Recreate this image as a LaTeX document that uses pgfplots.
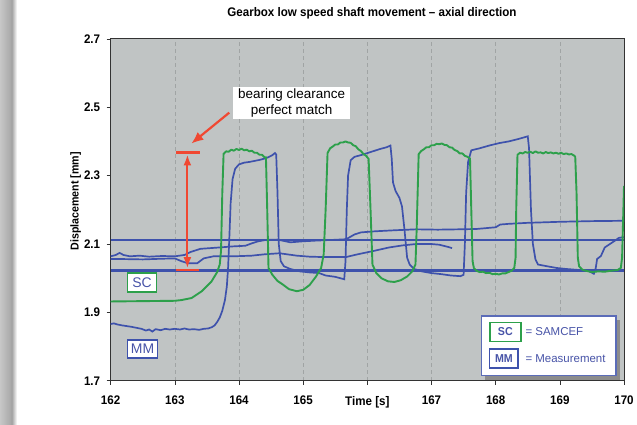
\documentclass[border=0pt]{standalone}
\usepackage{fontspec}
\setmainfont{Liberation Sans}
\newfontfamily\cond[FakeStretch=0.93,Ligatures=TeX]{Liberation Sans}
\newcommand\condbf{\cond\bfseries}
\usepackage{pgfplots}
\pgfplotsset{compat=1.18}
\usetikzlibrary{arrows.meta}

\definecolor{plotbg}{RGB}{192,196,196}
\definecolor{gridgray}{RGB}{160,164,164}
\definecolor{scgreen}{RGB}{45,160,75}
\definecolor{mmblue}{RGB}{62,82,172}
\definecolor{txtblue}{RGB}{72,84,168}
\definecolor{annred}{RGB}{240,72,50}

% pixel frame of the 637x426 reference, axis box is (111,39)-(626,382)
\tikzset{pix/.style={x=1pt,y=-1pt,shift={(-111pt,382pt)}}}

\begin{document}
\begin{tikzpicture}
\begin{scope}[pix]
  \path[use as bounding box] (0,0) rectangle (637,426);
  \shade[left color=black!22, right color=black!35] (0,0) rectangle (12,426);
  \shade[left color=black!35, right color=white] (12,0) rectangle (17,426);
\end{scope}

\begin{axis}[
    at={(0,0)}, anchor=south west,
    scale only axis, width=515pt, height=343pt,
    xmin=162, xmax=170, ymin=1.7, ymax=2.7,
    xtick={162,163,164,165,166,167,168,169,170},
    xticklabels={162,163,164,165,Time [s],167,168,169,170},
    ytick={1.7,1.9,2.1,2.3,2.5,2.7},
    yticklabels={1.7,1.9,2.1,2.3,2.5,2.7},
    tick pos=left, tick align=outside, major tick length=4pt,
    xmajorgrids,
    grid style={dash pattern=on 4pt off 3pt, color=gridgray, line width=0.6pt},
    axis background/.style={fill=plotbg},
    axis line style={line width=1pt, color=black!80},
    tick style={line width=0.6pt, color=black!80},
    ticklabel style={font=\condbf\fontsize{12.5}{14}\selectfont},
    xticklabel shift=8pt, yticklabel shift=3pt,
    title={Gearbox low speed shaft movement – axial direction},
    title style={font=\condbf\fontsize{12.5}{14}\selectfont,
        at={(axis description cs:0.509,1.058)}, anchor=center},
    ylabel={Displacement [mm]},
    ylabel style={font=\condbf\fontsize{11.5}{13}\selectfont,
        at={(axis description cs:-0.068,0.525)}, anchor=center, rotate=0},
]
% flat reference lines of the measurement
\addplot[mmblue, line width=3pt] coordinates {(162,2.023) (170,2.023)};
\addplot[mmblue, line width=1.2pt] coordinates {(162,2.112) (170,2.112)};

% MM, upper baseline
\addplot[mmblue, line width=1.7pt] coordinates {
(162.00,2.064) (162.08,2.068) (162.14,2.074) (162.20,2.068) (162.30,2.064)
(162.45,2.066) (162.60,2.063) (162.80,2.065) (163.00,2.064) (163.15,2.068)
(163.25,2.077) (163.40,2.086) (163.55,2.088) (163.70,2.090) (163.90,2.093)
(164.10,2.095) (164.20,2.102) (164.30,2.108) (164.42,2.112) (164.60,2.113)
(164.80,2.105) (165.00,2.108) (165.20,2.110) (165.45,2.112) (165.67,2.114)
(165.80,2.128) (165.90,2.134) (166.10,2.137) (166.40,2.140) (166.76,2.143)
(167.10,2.142) (167.43,2.143) (167.70,2.144) (168.00,2.149) (168.07,2.157)
(168.20,2.159) (168.50,2.162) (169.00,2.165) (169.50,2.167) (170.00,2.168)
};
% MM, lower baseline
\addplot[mmblue, line width=1.7pt] coordinates {
(162.00,2.056) (162.20,2.056) (162.50,2.055) (162.80,2.057) (163.00,2.058)
(163.10,2.050) (163.20,2.044) (163.35,2.044) (163.45,2.058) (163.60,2.064)
(163.90,2.064) (164.20,2.066) (164.40,2.070) (164.63,2.073) (164.90,2.066)
(165.10,2.063) (165.30,2.062) (165.67,2.062) (165.85,2.070) (166.08,2.079)
(166.34,2.090) (166.55,2.096) (166.76,2.100) (167.00,2.100) (167.12,2.098)
(167.25,2.092) (167.32,2.088)
};
% MM, main trace
\addplot[mmblue, line width=1.7pt] coordinates {
(162.00,1.866) (162.05,1.868) (162.10,1.865) (162.18,1.862) (162.25,1.860)
(162.32,1.858) (162.40,1.855) (162.48,1.852) (162.55,1.847) (162.60,1.850)
(162.65,1.844) (162.70,1.851) (162.78,1.848) (162.85,1.852) (162.92,1.850)
(163.00,1.852) (163.08,1.850) (163.15,1.853) (163.22,1.850) (163.30,1.851)
(163.38,1.849) (163.45,1.852) (163.52,1.853) (163.58,1.857) (163.62,1.862)
(163.66,1.872) (163.70,1.885) (163.74,1.905) (163.78,1.935) (163.81,1.975)
(163.83,2.030) (163.85,2.120) (163.87,2.220) (163.90,2.290) (163.94,2.320)
(164.00,2.333) (164.08,2.338) (164.16,2.340) (164.24,2.343) (164.32,2.346)
(164.40,2.350) (164.46,2.354) (164.52,2.360) (164.56,2.366) (164.58,2.362)
(164.60,2.250) (164.62,2.100) (164.65,2.050) (164.70,2.035) (164.80,2.027)
(164.95,2.020) (165.10,2.017) (165.25,2.015) (165.35,2.008) (165.50,2.004)
(165.64,1.997) (165.66,2.050) (165.68,2.200) (165.70,2.300) (165.74,2.345)
(165.80,2.355) (165.90,2.360) (166.00,2.366) (166.10,2.372) (166.20,2.378)
(166.30,2.383) (166.36,2.388) (166.38,2.350) (166.40,2.280) (166.44,2.255)
(166.50,2.235) (166.54,2.210) (166.58,2.140) (166.62,2.060) (166.66,2.040)
(166.73,2.027) (166.85,2.020) (167.00,2.015) (167.15,2.012) (167.30,2.008)
(167.45,2.006) (167.50,2.010) (167.52,2.100) (167.54,2.250) (167.57,2.340)
(167.62,2.374) (167.75,2.380) (167.90,2.388) (168.05,2.395) (168.20,2.400)
(168.35,2.407) (168.50,2.415) (168.52,2.380) (168.55,2.200) (168.58,2.100)
(168.62,2.055) (168.66,2.040) (168.80,2.035) (168.95,2.030) (169.10,2.027)
(169.30,2.024) (169.45,2.021) (169.53,2.013) (169.56,2.030) (169.58,2.056)
(169.64,2.065) (169.70,2.090) (169.78,2.100) (169.86,2.110) (169.92,2.118)
(170.00,2.120)
};
% SC, SAMCEF
\addplot[scgreen, line width=1.9pt, line join=round] coordinates {
(162.00,1.932) (162.50,1.933) (163.00,1.934) (163.10,1.936) (163.26,1.942)
(163.42,1.962) (163.57,1.990) (163.66,2.018) (163.70,2.040) (163.72,2.080)
(163.74,2.250) (163.76,2.364) (163.80,2.371) (163.84,2.370) (163.88,2.376)
(163.92,2.373) (163.96,2.378) (164.00,2.375) (164.04,2.379) (164.08,2.374)
(164.12,2.376) (164.16,2.371) (164.20,2.373) (164.24,2.367) (164.28,2.367)
(164.32,2.361) (164.36,2.361) (164.40,2.353) (164.42,2.354) (164.44,2.200)
(164.46,2.030) (164.52,2.010) (164.60,1.992) (164.68,1.982) (164.78,1.968)
(164.90,1.962) (165.00,1.966) (165.10,1.980) (165.20,2.005) (165.28,2.030)
(165.32,2.070) (165.35,2.200) (165.38,2.366) (165.42,2.380) (165.46,2.385)
(165.50,2.391) (165.54,2.391) (165.58,2.397) (165.62,2.397) (165.66,2.400)
(165.70,2.397) (165.74,2.396) (165.78,2.389) (165.82,2.386) (165.86,2.377)
(165.90,2.372) (165.94,2.363) (165.98,2.358) (166.02,2.349) (166.05,2.200)
(166.08,2.040) (166.14,2.015) (166.22,2.000) (166.32,1.991) (166.42,1.989)
(166.52,1.994) (166.62,2.005) (166.70,2.020) (166.75,2.040) (166.77,2.150)
(166.80,2.363) (166.84,2.372) (166.88,2.377) (166.92,2.383) (166.96,2.383)
(167.00,2.389) (167.04,2.389) (167.08,2.393) (167.12,2.392) (167.16,2.394)
(167.20,2.390) (167.24,2.389) (167.28,2.383) (167.32,2.382) (167.36,2.375)
(167.40,2.372) (167.44,2.365) (167.48,2.365) (167.52,2.358) (167.56,2.355)
(167.60,2.350) (167.62,2.200) (167.64,2.050) (167.66,2.030) (167.70,2.022)
(167.75,2.018) (167.80,2.019) (167.85,2.015) (167.90,2.016) (167.95,2.012)
(168.00,2.013) (168.05,2.011) (168.10,2.014) (168.15,2.014) (168.20,2.018)
(168.25,2.022) (168.29,2.030) (168.31,2.060) (168.32,2.200) (168.34,2.361)
(168.38,2.367) (168.42,2.365) (168.46,2.369) (168.50,2.367) (168.54,2.370)
(168.58,2.366) (168.62,2.371) (168.66,2.367) (168.70,2.368) (168.74,2.365)
(168.78,2.369) (168.82,2.366) (168.86,2.368) (168.90,2.365) (168.94,2.367)
(168.98,2.364) (169.02,2.367) (169.06,2.363) (169.10,2.365) (169.14,2.362)
(169.18,2.363) (169.22,2.359) (169.24,2.355) (169.26,2.250) (169.28,2.060)
(169.30,2.035) (169.35,2.025) (169.40,2.022) (169.50,2.018) (169.60,2.020)
(169.70,2.019) (169.80,2.022) (169.90,2.024) (169.95,2.030) (169.97,2.060)
(169.99,2.200) (170.00,2.270)
};
\end{axis}

\begin{scope}[pix]
  % bearing clearance marker
  \draw[annred, line width=2.6pt] (177,153) -- (201,153);
  \draw[annred, line width=2.6pt] (177,271) -- (200,271);
  \draw[annred, line width=2pt, {Latex[length=11pt,width=8pt]}-{Latex[length=11pt,width=8pt]}]
      (188,155) -- (188,269);
  \draw[annred, line width=2.2pt, -{Latex[length=12pt,width=10pt]}] (230,113) -- (192,144);
  \node[fill=white, inner xsep=5pt, inner ysep=2pt, align=center,
        font=\fontsize{13.5}{16}\selectfont] at (292.5,103.5)
        {bearing clearance\\perfect match};
  % curve tags
  \node[draw=scgreen, line width=1.6pt, fill=white, text=txtblue, inner sep=0pt,
        minimum width=29pt, minimum height=19pt, font=\fontsize{14}{14}\selectfont]
        at (142.5,283.5) {SC};
  \node[draw=mmblue, line width=1.6pt, fill=white, text=txtblue, inner sep=0pt,
        minimum width=30pt, minimum height=18pt, font=\fontsize{14}{14}\selectfont]
        at (143,350) {MM};
  % key box
  \fill[black!45] (487,321) rectangle (622,381);
  \draw[mmblue!85, line width=1.2pt, fill=white] (483,317) rectangle (618,377);
  \node[draw=scgreen, line width=1.8pt, fill=white, text=txtblue, inner sep=0pt,
        minimum width=31pt, minimum height=19pt, font=\condbf\fontsize{11.5}{12}\selectfont]
        at (507,333) {SC};
  \node[anchor=west, inner sep=0pt, text=txtblue, font=\fontsize{11.5}{12}\selectfont]
        at (527,333) {= SAMCEF};
  \node[draw=mmblue, line width=1.8pt, fill=white, text=txtblue, inner sep=0pt,
        minimum width=29pt, minimum height=19pt, font=\condbf\fontsize{11.5}{12}\selectfont]
        at (505.5,360) {MM};
  \node[anchor=west, inner sep=0pt, text=txtblue, font=\fontsize{11.5}{12}\selectfont]
        at (527,360) {= Measurement};
\end{scope}
\end{tikzpicture}
\end{document}
